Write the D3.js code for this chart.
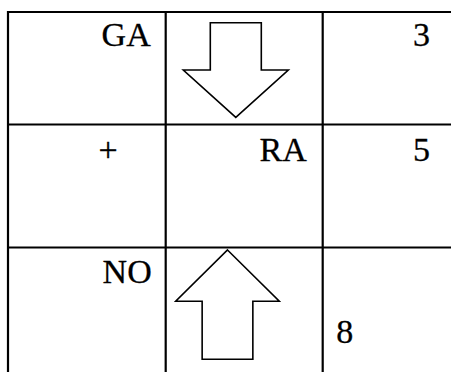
<!DOCTYPE html>
<html>
  <head>
    <title>grid-arrows</title>
    <script src="https://d3js.org/d3.v7.min.js"></script>
    <style>
      body { margin: 0; background: #fff; }
    </style>
  </head>
  <body>
    <div id="vis"></div>
    <script>
      // cell contents, row by row
      var row1 = ["GA", "", "3"];
      var row2 = ["+", "RA", "5"];
      var row3 = ["NO", "", "8"];
      var cells = [row1, row2, row3];
      // arrows drawn in the middle column
      var arrowDirs = ["down", null, "up"];

      var width = 451;
      var height = 372;

      var svg = d3.select("#vis")
        .append("svg")
        .attr("width", width)
        .attr("height", height);

      // column / row edges
      var x = d3.scaleLinear().domain([0, 1, 2, 3]).range([8, 165.7, 322.7, 480]);
      var y = d3.scaleLinear().domain([0, 1, 2, 3]).range([12, 124.5, 247.5, 380]);

      // where each text sits inside its cell (dx from edge, baseline dy from row top)
      var textPos = [
        [{a: "end", dx: -15, dy: 33.5}, null, {a: "end", dx: -50, dy: 33.5}],
        [{a: "end", dx: -48, dy: 36}, {a: "end", dx: -16, dy: 36}, {a: "end", dx: -50, dy: 36}],
        [{a: "end", dx: -14, dy: 35.5}, null, {a: "start", dx: 13.5, dy: 95.5}]
      ];

      // grid
      var g = svg.append("g");
      [0, 1, 2].forEach(function(i) {
        g.append("line")
          .attr("x1", x(i)).attr("x2", x(i))
          .attr("y1", y(0) - 1).attr("y2", height)
          .attr("stroke", "#000").attr("stroke-width", 2.2);
        g.append("line")
          .attr("x1", x(0) - 1).attr("x2", width)
          .attr("y1", y(i)).attr("y2", y(i))
          .attr("stroke", "#000").attr("stroke-width", 2.2);
      });

      // texts
      cells.forEach(function(row, r) {
        row.forEach(function(t, c) {
          if (!t) return;
          var p = textPos[r][c];
          svg.append("text")
            .attr("x", p.a == "end" ? x(c + 1) + p.dx : x(c) + p.dx)
            .attr("y", y(r) + p.dy)
            .attr("text-anchor", p.a)
            .attr("font-family", "Liberation Serif")
            .attr("font-size", 34)
            .attr("fill", "#000")
            .attr("stroke", "#000")
            .attr("stroke-width", 0.3)
            .text(t);
        });
      });

      // block arrows: cx, top, head width, shaft width, total height, head height
      var arrowBox = [
        {cx: 235.8, top: 22.7, hw: 105, sw: 51, h: 94.6, hh: 47.3},
        null,
        {cx: 227.5, top: 250, hw: 103.6, sw: 50.7, h: 109.3, hh: 51.3}
      ];
      function arrowPath(b, dir) {
        var p = d3.path();
        var l = b.cx - b.hw / 2, r = b.cx + b.hw / 2;
        var sl = b.cx - b.sw / 2, sr = b.cx + b.sw / 2;
        var bot = b.top + b.h;
        if (dir == "down") {
          var sh = bot - b.hh;
          p.moveTo(sl, b.top); p.lineTo(sr, b.top); p.lineTo(sr, sh); p.lineTo(r, sh);
          p.lineTo(b.cx, bot); p.lineTo(l, sh); p.lineTo(sl, sh); p.closePath();
        } else {
          var sh2 = b.top + b.hh;
          p.moveTo(b.cx, b.top); p.lineTo(r, sh2); p.lineTo(sr, sh2); p.lineTo(sr, bot);
          p.lineTo(sl, bot); p.lineTo(sl, sh2); p.lineTo(l, sh2); p.closePath();
        }
        return p.toString();
      }
      arrowDirs.forEach(function(d, r) {
        if (!d) return;
        svg.append("path")
          .attr("d", arrowPath(arrowBox[r], d))
          .attr("fill", "#fff")
          .attr("stroke", "#000")
          .attr("stroke-width", 1.6)
          .attr("stroke-linejoin", "miter");
      });
    </script>
  </body>
</html>
